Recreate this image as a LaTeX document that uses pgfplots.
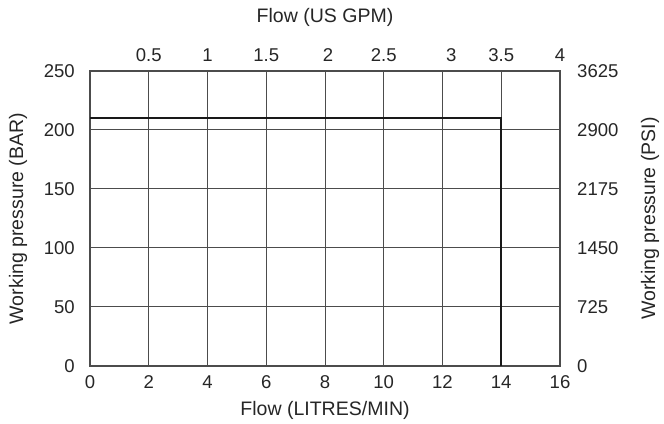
\documentclass[border=0pt]{standalone}
\usepackage{pgfplots}
\pgfplotsset{compat=1.18}
\usepackage{fontspec}
\setmainfont{Liberation Sans}
\usetikzlibrary{calc}
\begin{document}
\begin{tikzpicture}
\pgfplotsset{
  common/.style={
    scale only axis, width=470bp, height=295bp,
    xmin=0, xmax=16, ymin=0, ymax=250,
    major tick length=0pt,
    /pgf/number format/assume math mode=true,
    tick label style={font=\fontsize{18.6}{22}\selectfont, text=black!85, inner sep=0pt},
  }
}
\begin{axis}[common, name=ax,
  xtick={0,2,...,16}, ytick={0,50,...,250},
  grid=major,
  major grid style={draw=black!70, line width=1bp},
  axis line style={draw=black!70, line width=1.3bp},
  xticklabel style={anchor=center, yshift=-16bp},
  yticklabel style={anchor=east, xshift=-15bp},
]
\addplot[black!90, line width=2.2bp] coordinates {(0,210) (14,210) (14,0)};
\end{axis}
\begin{axis}[common,
  axis x line*=top, axis y line*=right,
  axis line style={draw=none},
  xtick={2,4,6,8.1,10,12.3,14,16},
  xticklabels={0.5,1,1.5,2,2.5,3,3.5,4},
  ytick={0,50,...,250},
  yticklabels={0,725,1450,2175,2900,3625},
  xticklabel style={anchor=center, yshift=16bp},
  yticklabel style={anchor=west, xshift=17bp},
]
\addplot[draw=none] coordinates {(0,0)};
\end{axis}
\begin{scope}[font=\fontsize{19.6}{23}\selectfont, text=black!85]
\node at ($(ax.south)+(0,-44bp)$) {Flow (LITRES/MIN)};
\node at ($(ax.north)+(0,54bp)$) {Flow (US GPM)};
\node[rotate=90] at ($(ax.west)+(-72bp,0)$) {Working pressure (BAR)};
\node[rotate=90] at ($(ax.east)+(90bp,0)$) {Working pressure (PSI)};
\end{scope}
\pgfresetboundingbox
\path[use as bounding box] ($(ax.south west)+(-90bp,-58bp)$) rectangle ($(ax.north east)+(104bp,71bp)$);
\end{tikzpicture}
\end{document}
